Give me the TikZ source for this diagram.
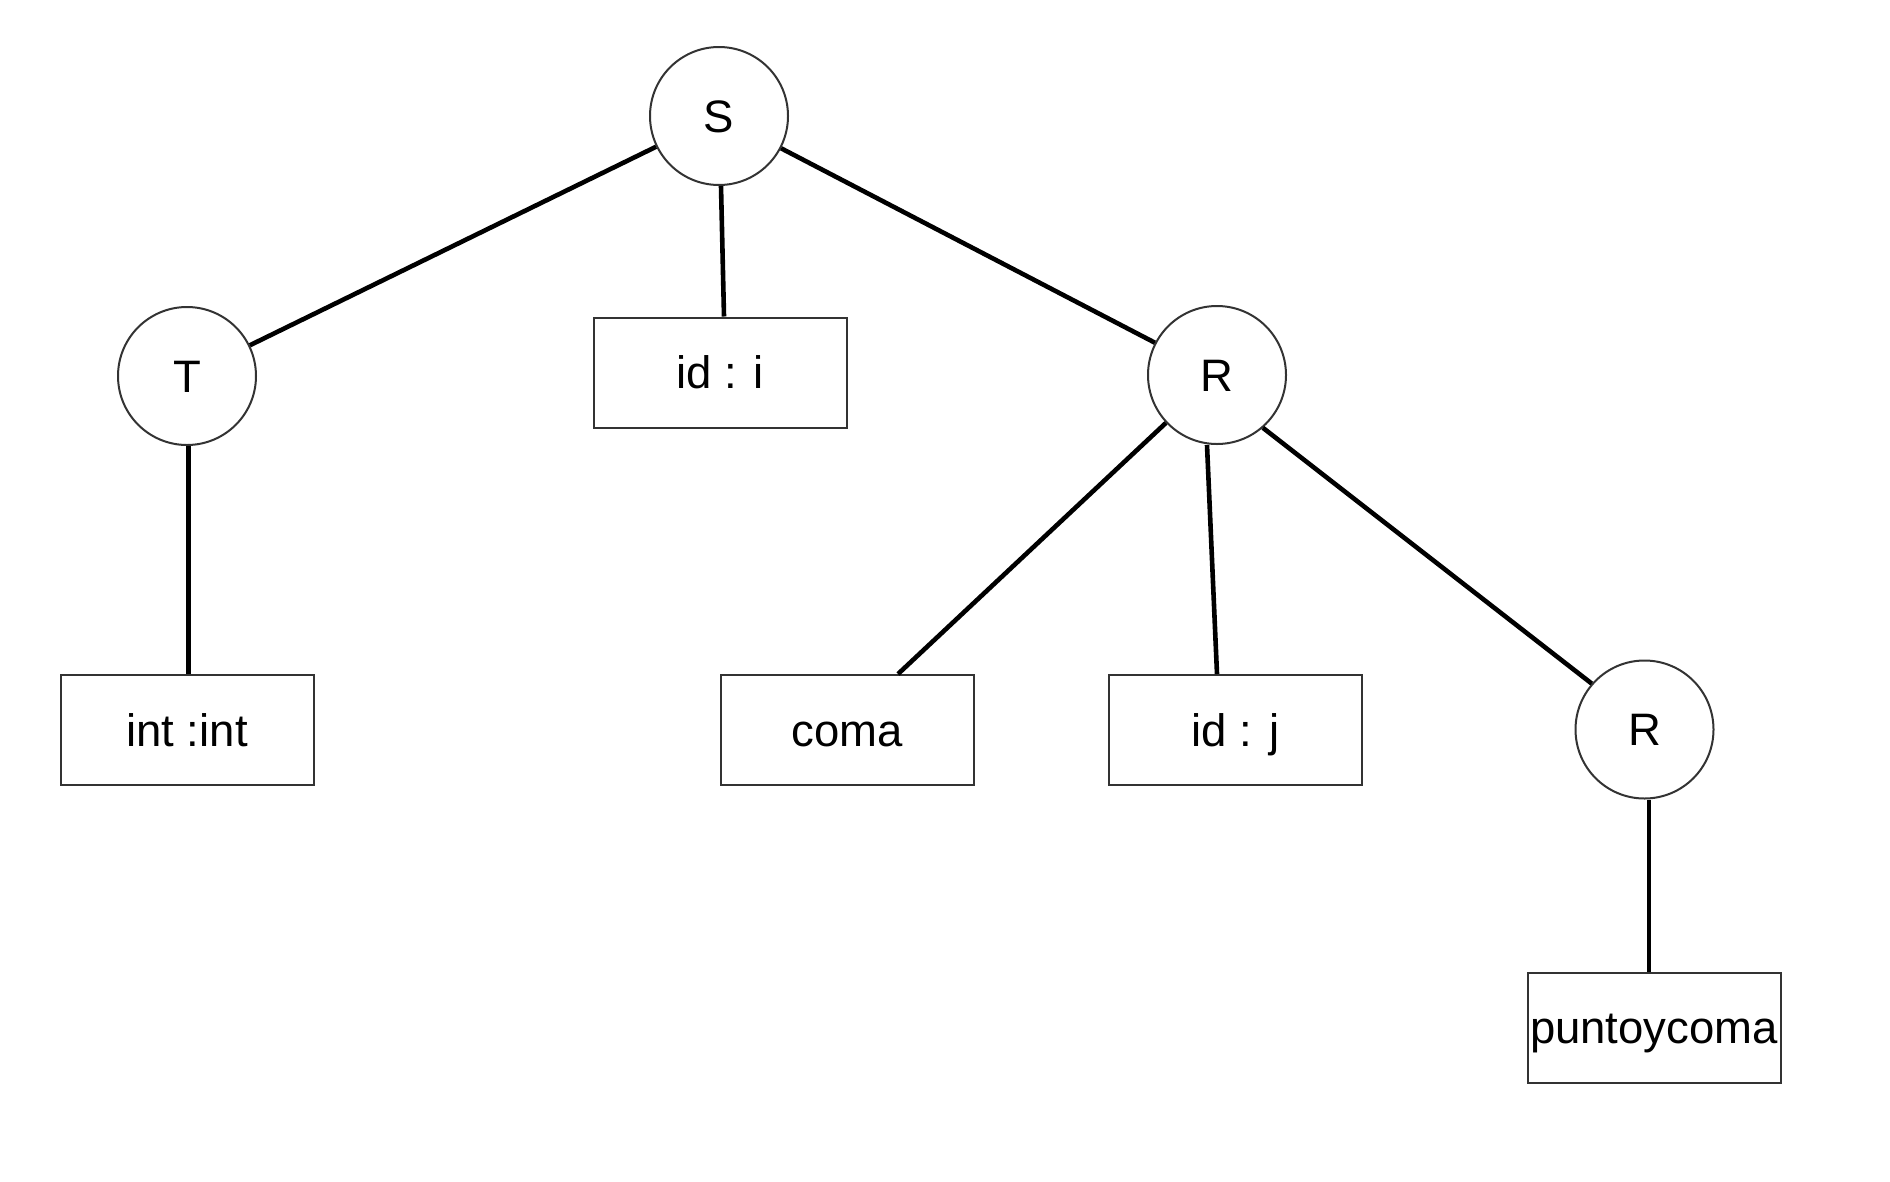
\documentclass[tikz,border=0pt]{standalone}
\usepackage{fontspec}
\setmainfont{Liberation Sans}
\definecolor{border}{HTML}{333333}
\begin{document}
\begin{tikzpicture}[x=1pt,y=-1pt,
  every node/.style={font=\fontsize{45.5}{54}\selectfont, text height=32.5pt, text depth=0pt},
  circ/.style={circle, draw=border, line width=2pt, minimum size=138pt, inner sep=0pt, fill=white},
  box/.style={rectangle, draw=border, line width=2pt, minimum width=253pt, minimum height=110pt, inner sep=0pt, fill=white},
  edge/.style={draw=black, line width=4.6pt}]
\fill[white] (0,0) rectangle (1890,1181);
\useasboundingbox (0,0) rectangle (1890,1181);

\node[circ] (S) at (719,116) {S};
\node[circ] (T) at (187,376) {T};
\node[circ] (R1) at (1217,375) {R};
\node[circ] (R2) at (1644.5,729.5) {R};

\node[box] (idi) at (720,372.5) {id : i};
\node[box] (intint) at (187,730) {int :int};
\node[box] (coma) at (847.5,730) {coma};
\node[box] (idj) at (1235.5,730) {id : j};
\node[box] (pyc) at (1654,1027.5) {puntoycoma};

\draw[edge] (S) -- (T);
\draw[edge] ([xshift=2pt]S.south) -- ([xshift=4pt]idi.north);
\draw[edge] ([xshift=1.5pt]T.south) -- ([xshift=1.5pt]intint.north);
\draw[edge] (S) -- (R1);
\draw[edge] (R1) -- ([xshift=50.5pt]coma.north);
\draw[edge] ([xshift=-10pt]R1.south) -- ([xshift=-18.5pt]idj.north);
\draw[edge] (R1.-49) -- (R2.139);
\draw[edge] ([xshift=4.5pt]R2.south) -- ([xshift=-5pt]pyc.north);
\end{tikzpicture}
\end{document}
